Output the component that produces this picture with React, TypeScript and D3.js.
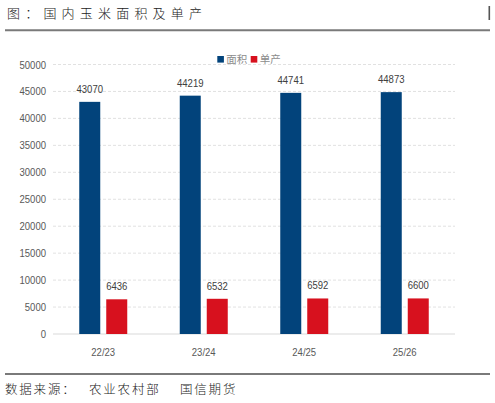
import React, { useEffect, useRef } from "react";
import * as d3 from "d3";

const categories = ["22/23", "23/24", "24/25", "25/26"];
const areaValues = [43070, 44219, 44741, 44873];
const yieldValues = [6436, 6532, 6592, 6600];
const yTicks = [0, 5000, 10000, 15000, 20000, 25000, 30000, 35000, 40000, 45000, 50000];
const seriesNames = ["面积", "单产"];
const seriesColors = ["#02437B", "#D7111E"];

const title = "图：国内玉米面积及单产";
const sourceParts = [
  { text: "数据来源：", x: 5 },
  { text: "农业农村部", x: 89 },
  { text: "国信期货", x: 180 },
];

const WIDTH = 495;
const HEIGHT = 403;
const CJK = "'Noto Sans CJK SC', sans-serif";
const NUM = "'Liberation Sans', sans-serif";
// narrow the numeric labels (the original uses a condensed face)
const SQUEEZE = 0.83;

const App: React.FC = () => {
  const svgRef = useRef<SVGSVGElement>(null);

  useEffect(() => {
    if (!svgRef.current) return;
    const svg = d3.select(svgRef.current);
    svg.selectAll("*").remove();

    svg.append("rect").attr("width", WIDTH).attr("height", HEIGHT).attr("fill", "#fff");

    const numText = (tx: number, ty: number, anchor: string, fill: string, label: string) =>
      svg
        .append("text")
        .attr("transform", `translate(${tx},${ty}) scale(${SQUEEZE},1)`)
        .attr("dy", "0.35em")
        .attr("text-anchor", anchor)
        .style("font-family", NUM)
        .style("font-size", "11.5px")
        .style("fill", fill)
        .text(label);

    // Header
    svg
      .append("text")
      .attr("x", 7)
      .attr("y", 18)
      .style("font-family", CJK)
      .style("font-size", "13px")
      .style("font-weight", 300)
      .style("letter-spacing", "5.2px")
      .style("fill", "#222")
      .text(title);

    svg.append("rect").attr("x", 488.5).attr("y", 6).attr("width", 1.6).attr("height", 14).attr("fill", "#555");

    svg
      .append("line")
      .attr("x1", 5)
      .attr("x2", 490)
      .attr("y1", 30.3)
      .attr("y2", 30.3)
      .attr("stroke", "#7a7a7a")
      .attr("stroke-width", 2);

    // Scales
    const x = d3.scaleBand<string>().domain(categories).range([53, 455]);
    const y = d3.scaleLinear().domain([0, 50000]).range([334, 64.5]);
    const barW = 21;
    const gap = 6;
    const cx = (c: string) => (x(c) as number) + x.bandwidth() / 2;

    // Grid
    svg
      .selectAll(".grid")
      .data(yTicks.filter((t) => t > 0))
      .enter()
      .append("line")
      .attr("x1", 53)
      .attr("x2", 455)
      .attr("y1", (d) => y(d))
      .attr("y2", (d) => y(d))
      .attr("stroke", "#d9d9d9")
      .attr("stroke-width", 0.8)
      .attr("stroke-dasharray", "3,2");

    svg
      .append("line")
      .attr("x1", 53)
      .attr("x2", 455)
      .attr("y1", y(0))
      .attr("y2", y(0))
      .attr("stroke", "#d9d9d9")
      .attr("stroke-width", 1);

    // Y labels
    yTicks.forEach((t) => numText(46, y(t), "end", "#595959", String(t)));

    // Bars
    const series = [areaValues, yieldValues];
    series.forEach((vals, si) => {
      const offset = si === 0 ? -gap / 2 - barW : gap / 2;

      svg
        .selectAll(`.bar-${si}`)
        .data(vals)
        .enter()
        .append("rect")
        .attr("x", (d, i) => cx(categories[i]) + offset)
        .attr("y", (d) => y(d))
        .attr("width", barW)
        .attr("height", (d) => y(0) - y(d))
        .attr("fill", seriesColors[si]);

      vals.forEach((v, i) =>
        numText(cx(categories[i]) + offset + barW / 2, y(v) - 13, "middle", "#404040", String(v))
      );
    });

    // X labels
    categories.forEach((c) => numText(cx(c), 352, "middle", "#595959", c));

    // Legend
    const legendX = [217.3, 250.7];
    seriesNames.forEach((name, i) => {
      svg
        .append("rect")
        .attr("x", legendX[i])
        .attr("y", 56)
        .attr("width", 6.6)
        .attr("height", 6.6)
        .attr("fill", seriesColors[i]);
      svg
        .append("text")
        .attr("x", legendX[i] + 9)
        .attr("y", 59.5)
        .attr("dy", "0.35em")
        .style("font-family", CJK)
        .style("font-size", "10.5px")
        .style("fill", "#8c8c8c")
        .text(name);
    });

    // Footer
    svg
      .append("line")
      .attr("x1", 5)
      .attr("x2", 490)
      .attr("y1", 374)
      .attr("y2", 374)
      .attr("stroke", "#7a7a7a")
      .attr("stroke-width", 2);

    svg
      .selectAll(".source")
      .data(sourceParts)
      .enter()
      .append("text")
      .attr("x", (d) => d.x)
      .attr("y", 390)
      .attr("dy", "0.35em")
      .style("font-family", CJK)
      .style("font-size", "12.5px")
      .style("font-weight", 300)
      .style("letter-spacing", "1.8px")
      .style("fill", "#222")
      .text((d) => d.text);
  }, []);

  return (
    <div style={{ position: "absolute", left: 0, top: 0 }}>
      <svg ref={svgRef} width={WIDTH} height={HEIGHT} style={{ display: "block" }} />
    </div>
  );
};

export default App;
